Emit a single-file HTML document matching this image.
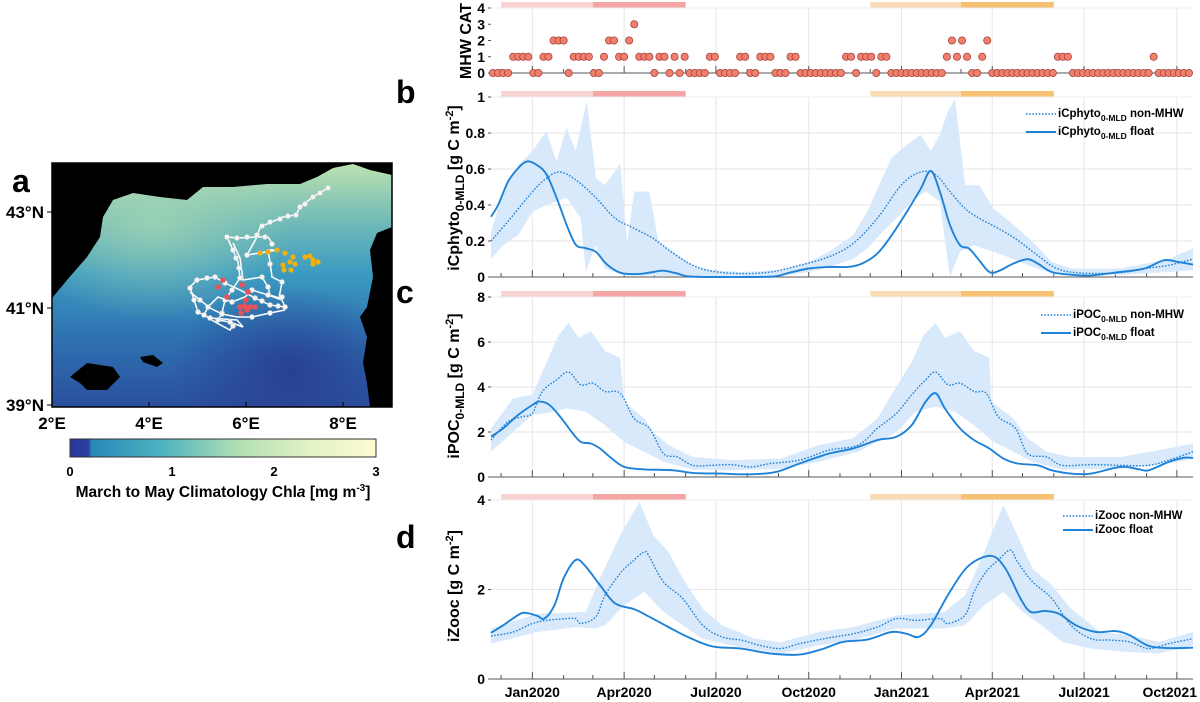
<!DOCTYPE html>
<html><head><meta charset="utf-8"><style>
html,body{margin:0;padding:0;background:#fff;}
svg{display:block;font-family:"Liberation Sans",Arial,sans-serif;}
.b{font-weight:bold;}
</style></head><body>
<svg id="fig" width="1200" height="702" viewBox="0 0 1200 702" xmlns="http://www.w3.org/2000/svg">
<defs>
<linearGradient id="seaGrad" x1="0" y1="0" x2="0" y2="1">
<stop offset="0" stop-color="#bfe2b0"/><stop offset="0.2" stop-color="#7cc1b6"/><stop offset="0.45" stop-color="#3b9bc0"/><stop offset="0.7" stop-color="#2f74b3"/><stop offset="1" stop-color="#2b4f9e"/>
</linearGradient>
<radialGradient id="seaGlow" cx="0.3" cy="0.25" r="0.4"><stop offset="0" stop-color="#a9d9b2" stop-opacity="0.7"/><stop offset="1" stop-color="#a9d9b2" stop-opacity="0"/></radialGradient>
<radialGradient id="seaDeep" cx="0.7" cy="0.85" r="0.35"><stop offset="0" stop-color="#283c90" stop-opacity="0.9"/><stop offset="1" stop-color="#283c90" stop-opacity="0"/></radialGradient>
<linearGradient id="cbGrad" x1="0" y1="0" x2="1" y2="0">
<stop offset="0" stop-color="#28379a"/><stop offset="0.06" stop-color="#2c3fa0"/><stop offset="0.07" stop-color="#2a86b9"/><stop offset="0.3" stop-color="#4cb3c0"/><stop offset="0.55" stop-color="#b2dfb4"/><stop offset="0.8" stop-color="#e6f3c5"/><stop offset="1" stop-color="#fbfbd2"/>
</linearGradient>
<clipPath id="mapClip"><rect x="52" y="163" width="340" height="244"/></clipPath>
</defs>

<g>
<g clip-path="url(#mapClip)">
<rect x="52" y="163" width="340" height="244" fill="url(#seaGrad)"/>
<rect x="52" y="163" width="340" height="244" fill="url(#seaGlow)"/>
<rect x="52" y="163" width="340" height="244" fill="url(#seaDeep)"/>
<polygon fill="#000" points="52,163 392,163 392,175 370,170 353,164 333,168 317,177 300,184 267,184 233,187 203,187 187,200 160,197 133,193 113,200 103,217 100,237 87,257 67,280 53,297 52,297"/>
<polygon fill="#000" points="392,227 377,233 370,250 373,277 367,307 360,317 367,337 363,363 367,383 370,407 392,407"/>
<polygon fill="#000" points="70,377 87,363 113,367 120,377 107,390 87,390 80,383"/>
<polygon fill="#000" points="140,357 153,355 163,363 157,367 143,362"/>
</g>
<rect x="52" y="163" width="340" height="244" fill="none" stroke="#000" stroke-width="1.5"/>
<g stroke="#fff" stroke-width="1.5" fill="none">
<polyline points="328,188 313,197 300,207 296,215 283,217 260,227 257,237 237,238 227,237 233,250 238,262 240,278 232,290 225,300 222,313 218,320 230,322 243,327 237,320 210,318 198,312 194,300 190,287 197,280 215,277 225,283 240,290 255,298 270,305 285,307 282,300 268,295 252,290 245,297 232,302 218,297 208,307 204,315 215,322 230,330 233,326"/>
<polyline points="233,243 240,258 243,280 262,277 268,287 270,295 279,298 282,282 272,277 270,262 268,250 277,250 260,253 247,255 257,237 268,237 272,243"/>
<polyline points="190,292 200,300 210,308 222,314 237,317 252,317 270,313 285,310"/>
</g>
<g fill="#f4f4f4" stroke="#bbb" stroke-width="0.4">
<circle cx="328" cy="188" r="2.6"/><circle cx="320" cy="193" r="2.6"/><circle cx="313" cy="197" r="2.6"/><circle cx="305" cy="204" r="2.6"/><circle cx="300" cy="207" r="2.6"/><circle cx="296" cy="215" r="2.6"/><circle cx="288" cy="216" r="2.6"/><circle cx="280" cy="219" r="2.6"/><circle cx="270" cy="222" r="2.6"/><circle cx="262" cy="226" r="2.6"/><circle cx="257" cy="235" r="2.6"/><circle cx="247" cy="237" r="2.6"/><circle cx="237" cy="238" r="2.6"/><circle cx="227" cy="237" r="2.6"/><circle cx="265" cy="237" r="2.6"/><circle cx="272" cy="244" r="2.6"/><circle cx="233" cy="250" r="2.6"/><circle cx="236" cy="258" r="2.6"/><circle cx="239" cy="268" r="2.6"/><circle cx="240" cy="278" r="2.6"/><circle cx="232" cy="290" r="2.6"/><circle cx="225" cy="300" r="2.6"/><circle cx="222" cy="313" r="2.6"/><circle cx="218" cy="320" r="2.6"/><circle cx="230" cy="322" r="2.6"/><circle cx="210" cy="318" r="2.6"/><circle cx="198" cy="312" r="2.6"/><circle cx="194" cy="300" r="2.6"/><circle cx="190" cy="288" r="2.6"/><circle cx="197" cy="280" r="2.6"/><circle cx="207" cy="278" r="2.6"/><circle cx="215" cy="277" r="2.6"/><circle cx="225" cy="283" r="2.6"/><circle cx="255" cy="298" r="2.6"/><circle cx="262" cy="301" r="2.6"/><circle cx="270" cy="305" r="2.6"/><circle cx="278" cy="306" r="2.6"/><circle cx="285" cy="307" r="2.6"/><circle cx="282" cy="297" r="2.6"/><circle cx="268" cy="295" r="2.6"/><circle cx="252" cy="290" r="2.6"/><circle cx="232" cy="302" r="2.6"/><circle cx="208" cy="307" r="2.6"/><circle cx="204" cy="315" r="2.6"/><circle cx="233" cy="326" r="2.6"/><circle cx="262" cy="277" r="2.6"/><circle cx="268" cy="287" r="2.6"/><circle cx="270" cy="264" r="2.6"/><circle cx="268" cy="252" r="2.6"/><circle cx="282" cy="282" r="2.6"/><circle cx="247" cy="255" r="2.6"/><circle cx="200" cy="300" r="2.6"/><circle cx="222" cy="314" r="2.6"/><circle cx="252" cy="317" r="2.6"/><circle cx="270" cy="313" r="2.6"/></g>
<g fill="#e8535a">
<circle cx="223" cy="280" r="2.8"/><circle cx="218" cy="287" r="2.8"/><circle cx="227" cy="297" r="2.8"/><circle cx="242" cy="285" r="2.8"/><circle cx="248" cy="292" r="2.8"/><circle cx="246" cy="300" r="2.8"/><circle cx="244" cy="306" r="2.8"/><circle cx="240" cy="307" r="2.8"/><circle cx="245" cy="307" r="2.8"/><circle cx="250" cy="307" r="2.8"/><circle cx="255" cy="307" r="2.8"/><circle cx="241" cy="313" r="2.8"/><circle cx="247" cy="310" r="2.8"/></g>
<g fill="#f2b10f">
<circle cx="260" cy="253" r="2.6"/><circle cx="268" cy="252" r="2.6"/><circle cx="277" cy="250" r="2.6"/><circle cx="285" cy="253" r="2.6"/><circle cx="293" cy="257" r="2.6"/><circle cx="290" cy="262" r="2.6"/><circle cx="283" cy="265" r="2.6"/><circle cx="284" cy="270" r="2.6"/><circle cx="291" cy="270" r="2.6"/><circle cx="295" cy="264" r="2.6"/><circle cx="305" cy="257" r="2.6"/><circle cx="310" cy="256" r="2.6"/><circle cx="313" cy="260" r="2.6"/><circle cx="318" cy="262" r="2.6"/><circle cx="313" cy="264" r="2.6"/></g>
<g class="b" font-size="17">
<text x="44" y="218" text-anchor="end">43°N</text>
<text x="44" y="314" text-anchor="end">41°N</text>
<text x="44" y="411" text-anchor="end">39°N</text>
<line x1="47" y1="212" x2="52" y2="212" stroke="#000"/><line x1="47" y1="308" x2="52" y2="308" stroke="#000"/><line x1="47" y1="405" x2="52" y2="405" stroke="#000"/>
<line x1="149" y1="402" x2="149" y2="407" stroke="#000"/><line x1="246" y1="402" x2="246" y2="407" stroke="#000"/><line x1="343" y1="402" x2="343" y2="407" stroke="#000"/>
<text x="52" y="429" text-anchor="middle">2°E</text>
<text x="149" y="429" text-anchor="middle">4°E</text>
<text x="246" y="429" text-anchor="middle">6°E</text>
<text x="343" y="429" text-anchor="middle">8°E</text>
</g>
<rect x="70" y="439" width="306" height="18" fill="url(#cbGrad)" stroke="#333" stroke-width="1"/>
<g class="b" font-size="13" text-anchor="middle">
<text x="70" y="476">0</text><text x="172" y="476">1</text><text x="274" y="476">2</text><text x="376" y="476">3</text></g>
<text x="223" y="497" class="b" font-size="15.5" text-anchor="middle">March to May Climatology Chl<tspan font-style="italic">a</tspan> [mg m<tspan font-size="10" dy="-6">-3</tspan><tspan dy="6">]</tspan></text>
<text x="12" y="192" class="b" font-size="32">a</text>
</g>

<g id="charts"></g>
</svg>
<script>
// ---------- DATA ----------
const quarterLabels = ["Jan2020","Apr2020","Jul2020","Oct2020","Jan2021","Apr2021","Jul2021","Oct2021"];
const quarterDays = [0,91,182,274,366,456,547,639];
const monthDays = [-31,0,31,60,91,121,152,182,213,244,274,305,335,366,397,425,456,486,517,547,578,609,639];
const periods = [[-31,60,"#f9d2d2"],[60,152,"#f6a5a5"],[335,425,"#fbdbb6"],[425,517,"#f7c173"]];
const mhwStartDay = -39;
const mhwStepDays = 5;
const mhwCat = [0,0,0,0,1,1,1,1,0,0,1,1,2,2,2,0,1,1,1,1,0,0,1,2,2,1,1,2,3,1,1,1,0,1,1,0,1,0,1,0,0,0,0,1,1,0,0,0,0,1,1,0,0,1,1,1,0,0,0,1,1,0,0,0,0,0,0,0,0,0,1,1,0,1,1,1,0,1,1,0,0,0,0,0,0,0,0,0,0,0,1,2,1,2,1,0,0,1,2,0,0,0,0,0,0,0,0,0,0,0,0,0,1,1,1,0,0,0,0,0,0,0,0,0,0,0,0,0,0,0,0,1,0,0,0,0,0,0,0];

const bFloat = [[-41,.335],[-34,.40],[-24,.53],[-14,.605],[-5,.642],[5,.62],[14,.57],[24,.44],[34,.29],[43,.18],[53,.16],[63,.14],[72,.08],[82,.037],[91,.019],[106,.017],[120,.028],[130,.035],[144,.019],[154,.004],[178,0],[217,0],[241,.004],[255,.024],[274,.047],[294,.056],[313,.056],[327,.075],[342,.13],[356,.23],[371,.36],[385,.49],[395,.59],[404,.475],[414,.29],[424,.177],[433,.158],[443,.093],[453,.028],[462,.032],[477,.075],[491,.099],[501,.075],[515,.028],[534,.013],[554,.009],[583,.028],[607,.047],[626,.093],[640,.084],[655,.069]];
const bNon = [[-41,.2],[-24,.31],[-5,.44],[10,.53],[26,.583],[43,.54],[63,.44],[82,.326],[101,.27],[120,.214],[140,.13],[159,.065],[178,.032],[207,.019],[236,.028],[265,.065],[294,.112],[318,.186],[342,.326],[366,.512],[385,.583],[400,.568],[414,.475],[429,.38],[443,.326],[462,.27],[481,.205],[501,.12],[520,.047],[544,.022],[583,.024],[611,.05],[631,.065],[655,.10]];
const bUpper = [[-41,.25],[-29,.475],[-14,.62],[0,.70],[14,.81],[24,.64],[34,.83],[43,.70],[54,.98],[63,.55],[72,.51],[87,.63],[94,.196],[101,.475],[116,.475],[125,.196],[140,.14],[159,.065],[178,.037],[207,.028],[246,.037],[274,.084],[294,.14],[318,.233],[332,.363],[347,.55],[356,.66],[371,.735],[385,.79],[395,.70],[404,.79],[412,.92],[419,.99],[429,.51],[443,.51],[457,.38],[477,.29],[496,.196],[515,.084],[534,.047],[583,.047],[631,.10],[655,.16]];
const bLower = [[-41,.10],[-29,.177],[-14,.233],[0,.363],[14,.40],[34,.44],[48,.326],[53,.028],[63,.177],[72,.047],[91,.009],[140,.006],[246,.006],[274,.028],[294,.056],[318,.10],[332,.158],[347,.25],[361,.326],[376,.42],[390,.475],[404,.42],[414,0],[424,.14],[438,.177],[457,.14],[477,.10],[496,.056],[515,.019],[583,.013],[631,.028],[655,.037]];

const cFloat = [[-41,1.79],[-29,2.16],[-14,2.76],[0,3.2],[7,3.35],[17,3.2],[29,2.6],[39,2.0],[48,1.56],[58,1.49],[67,1.27],[77,.89],[91,.45],[111,.34],[140,.30],[159,.18],[188,.15],[217,.12],[241,.22],[265,.6],[294,1.04],[318,1.27],[342,1.64],[361,1.79],[376,2.3],[390,3.35],[400,3.72],[409,3.05],[424,2.16],[438,1.64],[453,1.27],[467,.82],[481,.6],[501,.52],[515,.3],[534,.15],[554,.15],[583,.45],[602,.34],[611,.3],[631,.67],[645,.85],[655,.85]];
const cNon = [[-41,1.64],[-24,2.46],[-10,2.68],[0,2.83],[10,3.8],[24,4.32],[36,4.66],[48,4.1],[60,4.17],[72,3.8],[87,3.72],[101,2.6],[116,2.16],[130,1.04],[144,.89],[159,.52],[178,.52],[197,.55],[217,.45],[236,.6],[265,.75],[294,1.19],[323,1.42],[342,2.16],[361,2.83],[376,3.65],[390,4.32],[400,4.66],[412,4.1],[424,4.17],[438,3.8],[450,3.72],[462,2.68],[479,2.16],[491,1.04],[510,.89],[525,.52],[554,.55],[583,.52],[611,.52],[631,.75],[655,1.12]];
const cUpper = [[-41,2.16],[-19,3.5],[0,3.65],[14,5.1],[26,6.3],[36,6.85],[46,6.18],[58,6.48],[72,5.6],[87,5.3],[91,3.35],[111,2.6],[120,2.0],[135,1.42],[159,.89],[197,.75],[246,.82],[284,1.42],[318,1.72],[342,2.6],[356,3.65],[376,5.1],[388,6.3],[400,6.85],[409,6.18],[424,6.48],[438,5.6],[453,5.3],[455,3.35],[477,2.6],[491,1.72],[510,1.12],[534,.89],[583,.89],[631,1.27],[655,1.49]];
const cLower = [[-41,1.12],[-19,2.01],[0,2.76],[14,2.83],[34,3.05],[53,2.9],[72,2.3],[91,1.56],[111,1.12],[130,.67],[159,.33],[197,.30],[246,.37],[284,.67],[323,1.12],[342,1.56],[361,2.0],[380,2.9],[400,3.13],[419,2.9],[438,2.3],[457,1.56],[477,1.12],[496,.67],[525,.33],[583,.37],[631,.6],[655,.82]];

const dFloat = [[-41,1.03],[-29,1.2],[-14,1.43],[-7,1.48],[5,1.41],[12,1.35],[22,1.65],[31,2.25],[43,2.66],[53,2.51],[67,2.1],[82,1.69],[101,1.56],[116,1.39],[135,1.16],[154,.94],[178,.73],[207,.68],[236,.57],[265,.545],[289,.68],[308,.83],[332,.88],[356,1.05],[371,1.01],[383,.94],[395,1.2],[414,1.95],[433,2.54],[455,2.75],[469,2.47],[484,1.8],[494,1.5],[508,1.52],[522,1.46],[539,1.2],[559,1.05],[578,1.07],[592,.98],[611,.74],[631,.69],[655,.70]];
const dNon = [[-41,.96],[-19,1.05],[0,1.24],[14,1.31],[34,1.35],[43,1.35],[48,1.24],[63,1.39],[72,1.87],[87,2.36],[99,2.62],[111,2.84],[116,2.73],[130,2.17],[149,1.8],[169,1.2],[188,.94],[207,.87],[226,.75],[246,.68],[265,.79],[294,.92],[318,1.01],[342,1.16],[361,1.35],[380,1.31],[404,1.35],[412,1.24],[429,1.43],[438,1.95],[450,2.4],[462,2.66],[474,2.88],[481,2.62],[496,2.17],[515,1.8],[534,1.2],[554,.9],[573,.87],[592,.83],[611,.68],[631,.79],[655,.9]];
const dUpper = [[-41,1.13],[5,1.46],[53,1.5],[67,2.25],[87,3.21],[106,3.96],[120,3.21],[135,2.84],[149,2.25],[169,1.57],[188,1.20],[221,.90],[246,.82],[284,1.05],[318,1.16],[361,1.42],[409,1.5],[429,1.87],[448,2.84],[467,3.89],[481,3.21],[496,2.46],[515,2.1],[534,1.57],[563,1.05],[592,.98],[621,.83],[655,1.05]];
const dLower = [[-41,.79],[5,1.05],[43,1.16],[63,1.13],[72,1.2],[91,1.65],[111,1.95],[130,1.5],[149,1.2],[169,.90],[197,.75],[246,.57],[284,.75],[318,.87],[361,1.13],[409,1.13],[429,1.2],[448,1.65],[467,1.95],[486,1.5],[505,1.2],[525,.83],[554,.68],[592,.60],[621,.57],[655,.75]];

const bTicks = [0,0.2,0.4,0.6,0.8,1];
const cTicks = [0,2,4,6,8];
const dTicks = [0,2,4];
const mhwTicks = [0,1,2,3,4];

// ---------- DRAW ----------
const NS = "http://www.w3.org/2000/svg";
const root = document.getElementById("charts");
const X0 = 491, X1 = 1193, DMIN = -41, DMAX = 655;
function xS(d){ return X0 + (d - DMIN) * (X1 - X0) / (DMAX - DMIN); }
function mk(tag, attrs, parent){ const e = document.createElementNS(NS, tag); for (const k in attrs) e.setAttribute(k, attrs[k]); (parent||root).appendChild(e); return e; }
function yScale(p){ return v => p.y0 - (v / p.max) * (p.y0 - p.y1); }
function smoothPath(pts){
  let s = "M" + pts[0][0].toFixed(1) + "," + pts[0][1].toFixed(1);
  for (let i = 0; i < pts.length - 1; i++){
    const p0 = pts[i-1] || pts[i], p1 = pts[i], p2 = pts[i+1], p3 = pts[i+2] || p2;
    const c1x = p1[0] + (p2[0]-p0[0])/6, c1y = p1[1] + (p2[1]-p0[1])/6;
    const c2x = p2[0] - (p3[0]-p1[0])/6, c2y = p2[1] - (p3[1]-p1[1])/6;
    s += " C" + c1x.toFixed(1)+","+c1y.toFixed(1)+" "+c2x.toFixed(1)+","+c2y.toFixed(1)+" "+p2[0].toFixed(1)+","+p2[1].toFixed(1);
  }
  return s;
}
function frame(p, ticks, name){
  const g = mk("g", {});
  
  
  const y = yScale(p);
  quarterDays.forEach(d => {
    const l = mk("line", {x1:xS(d), x2:xS(d), y1:p.y1, y2:p.y0, stroke:"#e6e6e6", "stroke-width":1}, g);
    
    
  });
  ticks.forEach(t => {
    if (t > 0 && p.hgrid){
      const l = mk("line", {x1:X0, x2:X1, y1:y(t), y2:y(t), stroke:"#e6e6e6", "stroke-width":1}, g);
      
      
    }
    mk("line", {x1:X0-3, x2:X0, y1:y(t), y2:y(t), stroke:"#555"}, g);
    const tx = mk("text", {x:X0-6, y:y(t)+5, "text-anchor":"end", "font-size":14, "font-weight":"bold"}, g);
    tx.textContent = String(t);
    
    
  });
  mk("line", {x1:X0, x2:X1, y1:p.y0, y2:p.y0, stroke:"#777", "stroke-width":1.2}, g);
  mk("line", {x1:X0, x2:X1, y1:p.y1, y2:p.y1, stroke:"#eee", "stroke-width":1}, g);
  monthDays.forEach(d => mk("line", {x1:xS(d), x2:xS(d), y1:p.y0, y2:p.y0-(quarterDays.includes(d)?7:4), stroke:"#555"}, g));
  periods.forEach(pr => {
    const r = mk("rect", {x:xS(pr[0]), y:p.y1-6, width:xS(pr[1])-xS(pr[0]), height:5.5, fill:pr[2]}, g);
    
    
  });
}
function series(p, up, lo, non, flt, name){
  const y = yScale(p);
  const g = mk("g", {});
  
  
  const pts = up.map(a => xS(a[0]).toFixed(1)+","+y(a[1]).toFixed(1)).concat(lo.slice().reverse().map(a => xS(a[0]).toFixed(1)+","+y(a[1]).toFixed(1)));
  const band = mk("polygon", {points:pts.join(" "), fill:"#d8e9fb"}, g);
  
  
  const n = mk("path", {d:smoothPath(non.map(a=>[xS(a[0]), y(a[1])])), fill:"none", stroke:"#1e82d8", "stroke-width":1.4, "stroke-dasharray":"1.6 1.6"}, g);
  
  
  const f = mk("path", {d:smoothPath(flt.map(a=>[xS(a[0]), y(a[1])])), fill:"none", stroke:"#1e82d8", "stroke-width":1.9}, g);
  
  
}
function legend(x, y1, y2, base, sub, name){
  const g = mk("g", {"font-size":11.5, "font-weight":"bold"});
  
  
  [[y1, " non-MHW", "1.6 1.6"], [y2, " float", ""]].forEach(r => {
    const l = mk("line", {x1:x, x2:x+30, y1:r[0], y2:r[0], stroke:"#1e82d8", "stroke-width":r[2]?1.4:1.9, "stroke-dasharray":r[2]||"none"}, g);
    
    
    const t = mk("text", {x:x+32, y:r[0]+3}, g);
    
    
    t.innerHTML = base + (sub ? '<tspan font-size="8.5" dy="4">' + sub + '</tspan><tspan dy="-4">' + r[1] + '</tspan>' : r[1]);
  });
}
function ylabel(x, y, html, name){
  const t = mk("text", {x:x, y:y, transform:"rotate(-90 "+x+" "+y+")", "text-anchor":"middle", "font-size":16, "font-weight":"bold"});
  
  
  t.innerHTML = html;
}
function panelLetter(x, y, s){
  const t = mk("text", {x:x, y:y, "font-size":32, "font-weight":"bold"});
  t.textContent = s;
  
  
}

const pM = {y0:73, y1:8, max:4, hgrid:false};
frame(pM, mhwTicks, "mhw");
(function(){
  const y = yScale(pM);
  const g = mk("g", {});
  
  
  mhwCat.forEach((v, i) => {
    const c = mk("circle", {cx:xS(mhwStartDay + i*mhwStepDays), cy:y(v), r:3.6, fill:"#f07f6e", stroke:"#a8443a", "stroke-width":0.8}, g);
    
    
  });
})();
ylabel(471, 41, "MHW CAT", "y-axis-title-mhw");

const pB = {y0:277, y1:97, max:1, hgrid:true};
frame(pB, bTicks, "phyto");
series(pB, bUpper, bLower, bNon, bFloat, "phyto");
legend(1026, 114, 132, "iCphyto", "0-MLD", "phyto");
ylabel(459, 188, 'iCphyto<tspan font-size="12" dy="5">0-MLD</tspan><tspan dy="-5"> [g C m</tspan><tspan font-size="11" dy="-6">-2</tspan><tspan dy="6">]</tspan>', "y-axis-title-phyto");
panelLetter(396, 103, "b");

const pC = {y0:477, y1:297, max:8, hgrid:true};
frame(pC, cTicks, "poc");
series(pC, cUpper, cLower, cNon, cFloat, "poc");
legend(1041, 315, 333, "iPOC", "0-MLD", "poc");
ylabel(459, 386, 'iPOC<tspan font-size="12" dy="5">0-MLD</tspan><tspan dy="-5"> [g C m</tspan><tspan font-size="11" dy="-6">-2</tspan><tspan dy="6">]</tspan>', "y-axis-title-poc");
panelLetter(396, 303, "c");

const pD = {y0:679, y1:500, max:4, hgrid:true};
frame(pD, dTicks, "zooc");
series(pD, dUpper, dLower, dNon, dFloat, "zooc");
legend(1063, 516, 530, "iZooc", "", "zooc");
ylabel(459, 586, 'iZooc [g C m<tspan font-size="11" dy="-6">-2</tspan><tspan dy="6">]</tspan>', "y-axis-title-zooc");
panelLetter(396, 548, "d");

quarterLabels.forEach((s, i) => {
  const last = i === quarterLabels.length - 1;
  const t = mk("text", {x:last ? 1197 : xS(quarterDays[i]), y:697, "text-anchor":last ? "end" : "middle", "font-size":14, "font-weight":"bold"});
  t.textContent = s;
  
  
});
</script>
</body></html>
